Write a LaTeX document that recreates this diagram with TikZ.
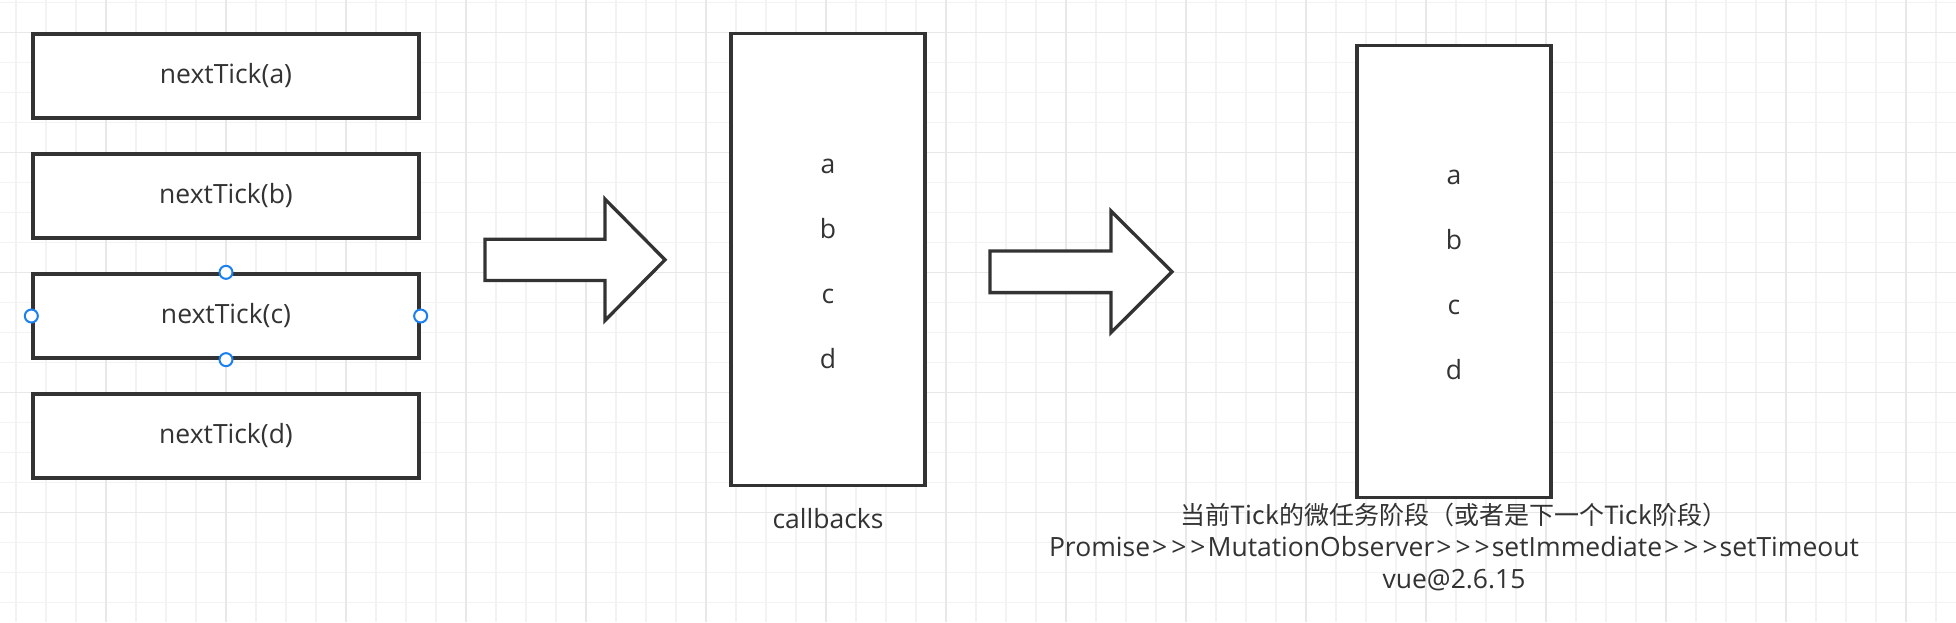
\documentclass[tikz,border=0pt]{standalone}
\usepackage{fontspec}
\setmainfont{Open Sans}
\newfontfamily\latin{Open Sans}
\newfontfamily\cjk{Noto Sans CJK SC}
\definecolor{ink}{HTML}{333333}
\definecolor{gridminor}{HTML}{F3F3F3}
\definecolor{gridmajor}{HTML}{E8E8E8}
\definecolor{handleblue}{HTML}{1A7FF0}
\newcommand\gtsym{\kern2pt>\kern2pt}
\tikzset{
  minorline/.style={draw=gridminor, line width=1.3pt},
  majorline/.style={draw=gridmajor, line width=1.5pt},
  callbox/.style={draw=ink, line width=3.3pt, fill=white, inner sep=0pt,
    minimum width=386pt, minimum height=84pt, text=ink,
    font=\latin\fontsize{26.5}{31.7}\selectfont},
  tallbox/.style={draw=ink, line width=3.3pt, fill=white, inner sep=0pt,
    minimum width=194pt, minimum height=452pt},
  letters/.style={text=ink, align=center, inner sep=0pt,
    font=\latin\fontsize{26.5}{65}\selectfont},
  blockarrow/.style={draw=ink, line width=3.3pt, fill=white, line join=miter},
  handle/.style={circle, draw=handleblue, fill=white, line width=2pt,
    inner sep=0pt, minimum size=13pt},
  caption/.style={text=ink, inner sep=0pt, align=center,
    font=\latin\fontsize{26.5}{31.7}\selectfont}
}
\begin{document}
\begin{tikzpicture}[x=1pt,y=-1pt]
\useasboundingbox (0,0) rectangle (1956,622);
\fill[white] (0,0) rectangle (1956,622);
% grid
\foreach \x in {16,46,...,1946} \draw[minorline] (\x,0) -- (\x,622);
\foreach \y in {2.7,32.7,...,620} \draw[minorline] (0,\y) -- (1956,\y);
\foreach \x in {106,226,...,1906} \draw[majorline] (\x,0) -- (\x,622);
\foreach \y in {32.7,152.7,272.7,392.7,512.7} \draw[majorline] (0,\y) -- (1956,\y);

% left column
\node[callbox] (na) at (226,76) {nextTick(a)};
\node[callbox] (nb) at (226,196) {nextTick(b)};
\node[callbox] (nc) at (226,316) {nextTick(c)};
\node[callbox] (nd) at (226,436) {nextTick(d)};
\node[handle] (h1) at (nc.north) {};
\node[handle] (h2) at (nc.south) {};
\node[handle] (h3) at (nc.west) {};
\node[handle] (h4) at (nc.east) {};

% arrow 1
\coordinate (a1) at (485,259.8);
\draw[blockarrow] (a1) ++(0,-20.6) -- ++(120,0) -- ++(0,-40.1) -- (665,259.8)
  -- (605,320.5) -- ++(0,-40.1) -- (485,280.4) -- cycle;

% callbacks box
\node[tallbox] (cb) at (828,259.7) {};
\node[letters] (cbt) at ([yshift=-4pt]cb.center) {a\\b\\c\\d};
\node[caption] (cbl) at (828,518.8) {callbacks};

% arrow 2
\coordinate (a2) at (990,271.8);
\draw[blockarrow] (a2) ++(0,-20.8) -- ++(121,0) -- ++(0,-40) -- (1172,271.8)
  -- (1111,332.6) -- ++(0,-40) -- (990,292.6) -- cycle;

% right box
\node[tallbox] (tb) at (1454,271.3) {};
\node[letters] (tbt) at ([yshift=-4pt]tb.center) {a\\b\\c\\d};
\node[caption, anchor=north] (note) at (1454,503) {{\cjk\fontsize{25}{31.7}\selectfont 当前Tick的微任务阶段（或者是下一个Tick阶段）}\\Promise\gtsym\gtsym\gtsym MutationObserver\gtsym\gtsym\gtsym setImmediate\gtsym\gtsym\gtsym setTimeout\\vue@2.6.15};
\end{tikzpicture}
\end{document}
